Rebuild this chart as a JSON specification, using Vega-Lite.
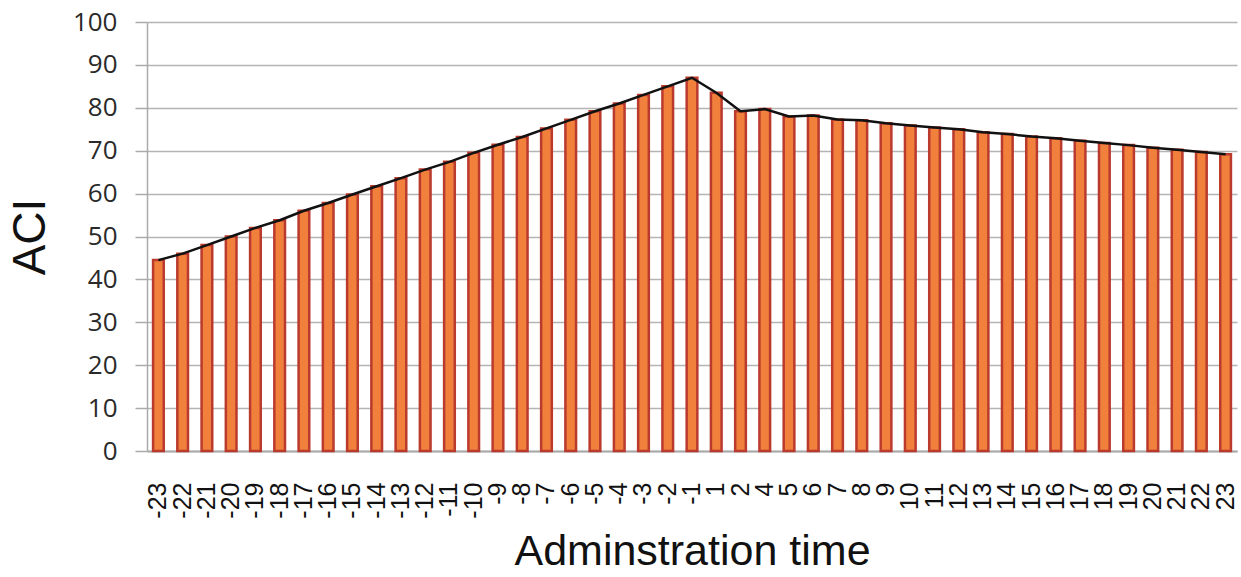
{
  "$schema": "https://vega.github.io/schema/vega-lite/v6.json",
  "autosize": {"type": "none"},
  "width": 1090,
  "height": 429,
  "padding": {"left": 147, "top": 22, "right": 4, "bottom": 126},
  "background": "white",
  "config": {"view": {"stroke": null}},
  "data": {"values": [
    {"t": "-23", "aci": 44.5}, {"t": "-22", "aci": 46.0}, {"t": "-21", "aci": 48.0}, {"t": "-20", "aci": 50.0},
    {"t": "-19", "aci": 52.0}, {"t": "-18", "aci": 53.8}, {"t": "-17", "aci": 56.0}, {"t": "-16", "aci": 57.8},
    {"t": "-15", "aci": 59.8}, {"t": "-14", "aci": 61.7}, {"t": "-13", "aci": 63.6}, {"t": "-12", "aci": 65.6},
    {"t": "-11", "aci": 67.4}, {"t": "-10", "aci": 69.5}, {"t": "-9", "aci": 71.4}, {"t": "-8", "aci": 73.2},
    {"t": "-7", "aci": 75.2}, {"t": "-6", "aci": 77.2}, {"t": "-5", "aci": 79.2}, {"t": "-4", "aci": 81.0},
    {"t": "-3", "aci": 83.0}, {"t": "-2", "aci": 85.0}, {"t": "-1", "aci": 87.0}, {"t": "1", "aci": 83.5},
    {"t": "2", "aci": 79.2}, {"t": "4", "aci": 79.7}, {"t": "5", "aci": 78.0}, {"t": "6", "aci": 78.2},
    {"t": "7", "aci": 77.3}, {"t": "8", "aci": 77.1}, {"t": "9", "aci": 76.4}, {"t": "10", "aci": 75.9},
    {"t": "11", "aci": 75.4}, {"t": "12", "aci": 75.0}, {"t": "13", "aci": 74.3}, {"t": "14", "aci": 73.9},
    {"t": "15", "aci": 73.3}, {"t": "16", "aci": 72.9}, {"t": "17", "aci": 72.3}, {"t": "18", "aci": 71.8},
    {"t": "19", "aci": 71.3}, {"t": "20", "aci": 70.7}, {"t": "21", "aci": 70.2}, {"t": "22", "aci": 69.7},
    {"t": "23", "aci": 69.2}
  ]},
  "encoding": {
    "x": {
      "field": "t", "type": "nominal", "sort": null,
      "scale": {"paddingInner": 0.56, "paddingOuter": 0.25},
      "axis": {
        "title": "Adminstration time",
        "titleFont": "Liberation Sans", "titleFontSize": 43, "titleFontWeight": "normal", "titleColor": "#111",
        "titlePadding": 12,
        "labelAngle": -90, "labelFont": "Liberation Sans", "labelFontSize": 25, "labelColor": "#111",
        "labelPadding": 31, "labelOverlap": false,
        "ticks": false, "domainColor": "#aaaaaa", "domainWidth": 2, "grid": false
      }
    },
    "y": {
      "field": "aci", "type": "quantitative",
      "scale": {"domain": [0, 100], "nice": false},
      "axis": {
        "title": "ACI", "titleFont": "Liberation Sans", "titleFontSize": 46, "titleFontWeight": "normal", "titleColor": "#111",
        "titlePadding": 18,
        "values": [0, 10, 20, 30, 40, 50, 60, 70, 80, 90, 100],
        "labelFont": "Open Sans", "labelFontSize": 26, "labelColor": "#2a2a2a",
        "labelPadding": 18, "tickSize": 12, "tickColor": "#aaaaaa", "tickWidth": 1.5,
        "domainColor": "#aaaaaa", "domainWidth": 1.5,
        "grid": true, "gridColor": "#b4b4b4", "gridWidth": 1.5
      }
    }
  },
  "layer": [
    {"mark": {"type": "bar", "fill": "#f0803c", "stroke": "#bb3a2e", "strokeWidth": 2.5}, "encoding": {"y": {"field": "aci", "type": "quantitative"}}},
    {"mark": {"type": "line", "color": "#111111", "strokeWidth": 2.5}, "encoding": {"x": {"field": "t", "type": "nominal", "sort": null, "bandPosition": 0.5}}}
  ]
}
